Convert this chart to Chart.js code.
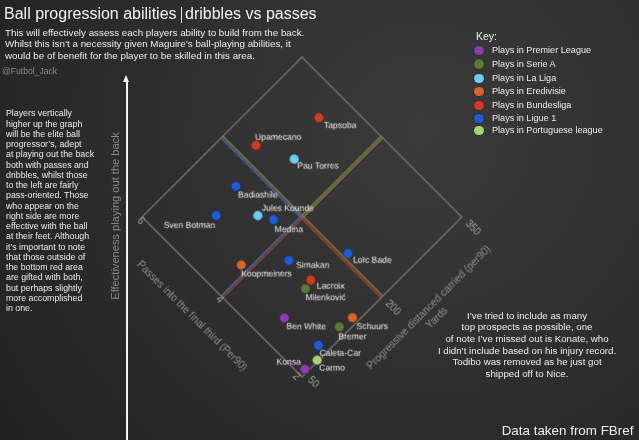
<!DOCTYPE html>
<html>
<head>
<meta charset="utf-8">
<script src="https://cdn.jsdelivr.net/npm/chart.js@4.4.1/dist/chart.umd.min.js"></script>
<style>
  html, body { margin: 0; padding: 0; }
  body {
    width: 639px; height: 440px; overflow: hidden; position: relative;
    background: radial-gradient(circle at 66% 30%, #3b3b3b 0%, #313131 40%, #262626 80%, #212121 100%);
    font-family: "Liberation Sans", Arial, sans-serif; color: #ececec;
  }
  .t { position: absolute; white-space: nowrap; line-height: 1; }
  #wrap { position: absolute; left: 82px; top: -3px; width: 440px; height: 440px; transform: rotate(-45deg); transform-origin: 50% 50%; }
  #c { width: 440px; height: 440px; display: block; }
</style>
</head>
<body>
<div id="wrap"><canvas id="c" width="440" height="440"></canvas></div>

<div class="t" style="left:4px; top:6.3px; font-size:16px; color:#f2f2f2;">Ball progression abilities</div>
<div style="position:absolute; left:180.5px; top:7px; width:1.5px; height:15.5px; background:#e8e8e8;"></div>
<div class="t" style="left:185px; top:6.3px; font-size:16px; color:#f2f2f2;">dribbles vs passes</div>

<div class="t" style="left:5px; top:26.7px; font-size:9.8px; line-height:11.8px;">This will effectively assess each players ability to build from the back.<br>Whilst this isn’t a necessity given Maguire’s ball-playing abilities, it<br>would be of benefit for the player to be skilled in this area.</div>
<div class="t" style="left:2px; top:66.7px; font-size:8.6px; color:#8a8a8a;">@Futbol_Jack</div>

<div class="t" style="left:6px; top:108.3px; font-size:8.8px; line-height:10.25px;">Players vertically<br>higher up the graph<br>will be the elite ball<br>progressor’s, adept<br>at playing out the back<br>both with passes and<br>dribbles, whilst those<br>to the left are fairly<br>pass-oriented. Those<br>who appear on the<br>right side are more<br>effective with the ball<br>at their feet. Although<br>it’s important to note<br>that those outside of<br>the bottom red area<br>are gifted with both,<br>but perhaps slightly<br>more accomplished<br>in one.</div>

<div style="position:absolute; left:125.7px; top:80px; width:2px; height:360px; background:#f4f4f4;"></div>
<div style="position:absolute; left:123.2px; top:75px; width:0; height:0; border-left:3.5px solid transparent; border-right:3.5px solid transparent; border-bottom:7px solid #f4f4f4;"></div>
<div class="t" style="left:116px; top:216px; font-size:11.1px; color:#8a8a8a; transform:translate(-50%,-50%) rotate(-90deg);">Effectiveness playing out the back</div>

<div class="t" style="left:476px; top:30.8px; font-size:10.5px;">Key:</div>
<div id="legend"></div>

<div class="t" style="left:427px; top:309.5px; width:200px; text-align:center; font-size:9.7px; line-height:11.7px;">I’ve tried to include as many<br>top prospects as possible, one<br>of note I’ve missed out is Konate, who<br>I didn’t include based on his injury record.<br>Todibo was removed as he just got<br>shipped off to Nice.</div>

<div class="t" style="left:501.7px; top:423.5px; font-size:13.4px;">Data taken from FBref</div>

<script>
// ---------------- DATA ----------------
const players = ['Tapsoba', 'Upamecano', 'Pau Torres', 'Badiashile', 'Sven Botman', 'Jules Kounde',
  'Medina', 'Loïc Bade', 'Simakan', 'Koopmeiners', 'Lacroix', 'Milenković', 'Ben White',
  'Schuurs', 'Bremer', 'Caleta-Car', 'Carmo', 'Konsa'];
const playerLeague = ['Bundesliga', 'Bundesliga', 'La Liga', 'Ligue 1', 'Ligue 1', 'La Liga',
  'Ligue 1', 'Ligue 1', 'Ligue 1', 'Eredivisie', 'Bundesliga', 'Serie A', 'Premier League',
  'Eredivisie', 'Serie A', 'Ligue 1', 'Portuguese league', 'Premier League'];
// Passes into the final third (per 90)
const passesFinalThird = [5.03, 5.47, 4.82, 5.21, 5.09, 4.57, 4.32, 2.97, 3.62, 4.16, 3.10, 3.06, 2.96,
  2.11, 2.16, 2.19, 2.02, 2.06];
// Progressive distance carried (yards per 90)
const progCarryYards = [309, 224, 247, 167, 121, 160, 171, 209, 147, 98, 149, 136, 89,
  153, 132, 95, 80, 60];
const leagueNames = ['Premier League', 'Serie A', 'La Liga', 'Eredivisie', 'Bundesliga', 'Ligue 1', 'Portuguese league'];
const passTicks = [2, 4, 6];
const carryTicks = [50, 200, 350];

// ---------------- STYLE / LAYOUT ----------------
const leagueColors = ['#8a3db3', '#5a7a35', '#6ccdf4', '#d8642d', '#d13b25', '#1f5cd8', '#a3d374'];
// label offsets on screen [dx, dy, align]
const labelPlacement = {
  'Tapsoba': [5, 8, 'left'], 'Upamecano': [-1, -8, 'left'], 'Pau Torres': [3, 7, 'left'],
  'Badiashile': [2, 9, 'left'], 'Sven Botman': [-1, 10, 'right'], 'Jules Kounde': [4, -7, 'left'],
  'Medina': [1, 10, 'left'], 'Loïc Bade': [5, 7, 'left'], 'Simakan': [7, 5, 'left'],
  'Koopmeiners': [0, 9, 'left'], 'Lacroix': [6, 6, 'left'], 'Milenković': [0, 9, 'left'],
  'Ben White': [2, 9, 'left'], 'Schuurs': [4, 9, 'left'], 'Bremer': [-1, 10, 'left'],
  'Caleta-Car': [1, 8, 'left'], 'Carmo': [2, 8, 'left'], 'Konsa': [-4, -7, 'right']
};
const FONT = '"Liberation Sans", Arial, sans-serif';

// legend (HTML)
const legendEl = document.getElementById('legend');
const legendY = [50.7, 64, 78.3, 91.7, 105.3, 118.3, 130.7];
leagueNames.forEach((n, i) => {
  const dot = document.createElement('div');
  dot.style.cssText = `position:absolute;left:${479 - 4.7}px;top:${legendY[i] - 4.7}px;width:9.4px;height:9.4px;border-radius:50%;background:${leagueColors[i]};box-shadow:0 0 0 0.6px rgba(0,0,0,0.35);`;
  legendEl.appendChild(dot);
  const tx = document.createElement('div');
  tx.className = 't';
  tx.style.cssText += `left:492px;top:${legendY[i] + 3.3 - 0.8465 * 9.1}px;font-size:9.1px;`;
  tx.textContent = 'Plays in ' + n;
  legendEl.appendChild(tx);
});

// datasets, one per league
const datasets = leagueNames.map((lg, li) => ({
  label: lg,
  data: players.map((p, i) => ({ x: progCarryYards[i], y: passesFinalThird[i], name: p, lg: playerLeague[i] }))
               .filter(d => d.lg === lg),
  backgroundColor: leagueColors[li],
  borderColor: 'rgba(0,0,0,0.35)',
  borderWidth: 0.8,
  pointRadius: 4.8,
  clip: false
}));

const diamondPlugin = {
  id: 'diamond',
  beforeDatasetsDraw(chart) {
    const { ctx, scales: { x, y } } = chart;
    const xa = x.getPixelForValue(carryTicks[0]), xm = x.getPixelForValue(carryTicks[1]), xb = x.getPixelForValue(carryTicks[2]);
    const ya = y.getPixelForValue(passTicks[0]), ym = y.getPixelForValue(passTicks[1]), yb = y.getPixelForValue(passTicks[2]);
    const red = '#8a3e34', brown = '#86663a', blue = '#44609a', green = '#66783f';
    const seg = (x1, y1, x2, y2, c) => { ctx.strokeStyle = c; ctx.beginPath(); ctx.moveTo(x1, y1); ctx.lineTo(x2, y2); ctx.stroke(); };
    ctx.save();
    const off = 1.2;
    ctx.lineWidth = 1.8;
    seg(xm - off, ym, xm - off, ya, red);
    seg(xm + off, ym, xm + off, ya, brown);
    seg(xm - off, yb, xm - off, ym, blue);
    seg(xm + off, yb, xm + off, ym, green);
    seg(xa, ym - off, xm, ym - off, blue);
    seg(xa, ym + off, xm, ym + off, red);
    seg(xm, ym - off, xb, ym - off, green);
    seg(xm, ym + off, xb, ym + off, brown);
    ctx.lineWidth = 1.5;
    ctx.strokeStyle = '#6e6e6e';
    ctx.strokeRect(xa, yb, xb - xa, ya - yb);
    ctx.restore();
  },
  afterDatasetsDraw(chart) {
    const { ctx, scales: { x, y } } = chart;
    const xa = x.getPixelForValue(carryTicks[0]), xm = x.getPixelForValue(carryTicks[1]);
    const ya = y.getPixelForValue(passTicks[0]), ym = y.getPixelForValue(passTicks[1]);
    ctx.save();
    // point labels (counter-rotated so they read horizontally on screen)
    ctx.fillStyle = '#ececec';
    ctx.font = `8.6px ${FONT}`;
    ctx.textBaseline = 'middle';
    chart.data.datasets.forEach((ds, di) => {
      const meta = chart.getDatasetMeta(di);
      meta.data.forEach((pt, i) => {
        const name = ds.data[i].name;
        const [dx, dy, al] = labelPlacement[name] || [4, 8, 'left'];
        ctx.save();
        ctx.translate(pt.x, pt.y);
        ctx.rotate(Math.PI / 4);
        ctx.textAlign = al;
        ctx.fillText(name, dx, dy);
        ctx.restore();
      });
    });
    // tick labels
    ctx.fillStyle = '#9c9c9c';
    ctx.font = `10px ${FONT}`;
    passTicks.forEach((t, i) => {
      const py = y.getPixelForValue(t);
      ctx.save();
      ctx.translate(xa - 4.5, py);
      ctx.rotate(Math.PI / 2);
      ctx.textBaseline = 'middle';
      if (i === 0) { ctx.textAlign = 'right'; ctx.fillText(String(t), -1.5, 0); }
      else { ctx.textAlign = 'center'; ctx.fillText(String(t), i === passTicks.length - 1 ? 2 : 0, 0); }
      ctx.restore();
    });
    carryTicks.forEach((t, i) => {
      const px = x.getPixelForValue(t);
      ctx.save();
      ctx.translate(px, ya + 5);
      ctx.rotate(Math.PI / 2);
      ctx.textAlign = 'left';
      ctx.textBaseline = i === 0 ? 'bottom' : 'middle';
      ctx.fillText(String(t), i === 0 ? 1 : 2, i === 0 ? 1 : 0);
      ctx.restore();
    });
    // axis titles
    ctx.fillStyle = '#8e8e8e';
    ctx.font = `10.2px ${FONT}`;
    ctx.textAlign = 'center';
    ctx.textBaseline = 'middle';
    ctx.save();
    ctx.translate(xa - 34.6, ym - 7.8);
    ctx.rotate(Math.PI / 2);
    ctx.fillText('Passes into the final third (Per90)', 0, 0);
    ctx.restore();
    ctx.fillText('Progressive distanced carried (per90)', xm + 25.8, ya + 40.7);
    ctx.fillText('Yards', xm + 24, ya + 54.2);
    ctx.restore();
  }
};

const PAD = (440 - 160 * Math.SQRT2) / 2;
new Chart(document.getElementById('c'), {
  type: 'scatter',
  data: { datasets },
  options: {
    responsive: false,
    animation: false,
    devicePixelRatio: 1,
    layout: { padding: PAD },
    scales: {
      x: { type: 'linear', min: carryTicks[0], max: carryTicks[2], display: false },
      y: { type: 'linear', min: passTicks[0], max: passTicks[2], display: false }
    },
    plugins: { legend: { display: false }, tooltip: { enabled: false } }
  },
  plugins: [diamondPlugin]
});
</script>
</body>
</html>
